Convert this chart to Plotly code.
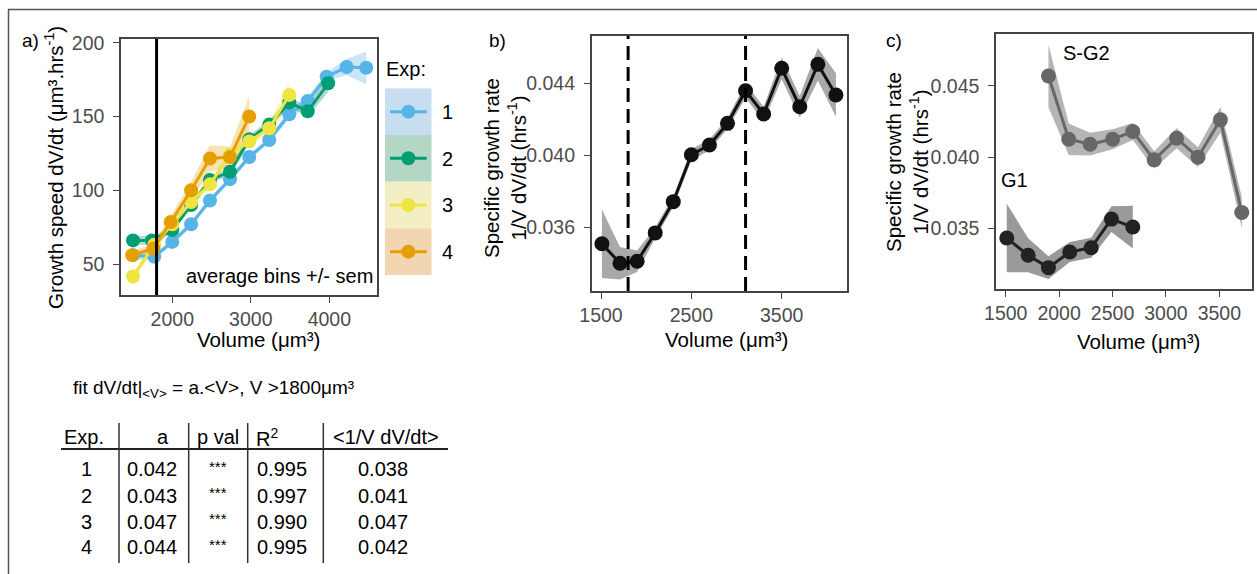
import plotly.graph_objects as go

W, H = 1257, 574

# ---------------- data: panel a (growth speed per volume bin) ----------------
exp1_v = [1500, 1770, 2000, 2240, 2480, 2735, 2980, 3235, 3490, 3725, 3965, 4220, 4470]
exp1_y = [56, 55, 65, 77, 93, 107.5, 122.5, 134, 151.5, 160.5, 177, 183.5, 183]
exp1_sem = [3, 2, 2, 2, 2, 2, 2, 2, 3, 3, 3, 5.5, 11]

exp2_v = [1500, 1740, 2000, 2240, 2480, 2735, 2980, 3235, 3490, 3725, 3985]
exp2_y = [66, 66, 73, 90, 107, 112.5, 134.5, 144.5, 159.5, 153.5, 172.5]
exp2_sem = [3, 3, 2, 2, 2, 3, 3, 3, 3, 4, 6]

exp3_v = [1500, 1770, 2000, 2240, 2480, 2735, 2980, 3235, 3490]
exp3_y = [41.5, 63, 77, 92, 104, 124, 133, 142, 164.5]
exp3_sem = [3, 3, 3, 3, 3, 3, 3, 4, 9]

exp4_v = [1490, 1760, 1980, 2240, 2480, 2735, 2980]
exp4_y = [56, 60.5, 78.5, 100, 121.5, 122.5, 150]
exp4_sem = [3, 3, 4, 6, 9, 7, 14]

exp_labels = ["1", "2", "3", "4"]
exp_colors = ["#56B4E9", "#009E73", "#F0E442", "#E69F00"]
exp_fill = ["rgba(86,180,233,0.33)", "rgba(20,130,80,0.30)", "rgba(240,228,66,0.30)", "rgba(230,159,0,0.30)"]
legend_fill = ["#c6def0", "#b4d6c4", "#f3eec4", "#f2d6b2"]
v_threshold = 1800

# ---------------- data: panel b ----------------
b_v = [1510, 1710, 1900, 2100, 2300, 2500, 2700, 2900, 3100, 3300, 3500, 3700, 3900, 4100]
b_y = [0.03511, 0.03403, 0.03414, 0.03571, 0.03744, 0.04004, 0.04058, 0.04178,
       0.04359, 0.04230, 0.04483, 0.04270, 0.04505, 0.04335]
b_sem = [0.0019, 0.0009, 0.0006, 0.0003, 0.0003, 0.0003, 0.0003, 0.0003,
         0.0004, 0.0004, 0.0006, 0.0006, 0.0009, 0.0012]
b_dashes = [1800, 3100]

# ---------------- data: panel c ----------------
g1_v = [1510, 1710, 1900, 2100, 2300, 2490, 2690]
g1_y = [0.03432, 0.03311, 0.03224, 0.03334, 0.03364, 0.03565, 0.03509]
g1_sem = [0.0024, 0.0012, 0.0008, 0.0007, 0.0007, 0.0009, 0.0015]

sg2_v = [1900, 2090, 2290, 2500, 2690, 2890, 3100, 3300, 3510, 3710]
sg2_y = [0.0457, 0.04126, 0.04091, 0.04126, 0.0418, 0.03981, 0.04133, 0.0400, 0.04262, 0.03611]
sg2_sem = [0.0022, 0.0011, 0.0008, 0.0007, 0.0006, 0.0006, 0.0007, 0.0007, 0.0009, 0.0011]

# ---------------- data: fit table ----------------
tab_header = ["Exp.", "a", "p val", "R<sup>2</sup>", "&lt;1/V dV/dt&gt;"]
tab_exp = ["1", "2", "3", "4"]
tab_a = ["0.042", "0.043", "0.047", "0.044"]
tab_p = ["***", "***", "***", "***"]
tab_r2 = ["0.995", "0.997", "0.990", "0.995"]
tab_sgr = ["0.038", "0.041", "0.047", "0.042"]

FONT = "Liberation Sans, Arial, sans-serif"
TICKC = "#4d4d4d"
AXC = "#444444"


def px(x):
    return x / W


def py(y):
    return 1 - y / H


def ribbon(v, y, s):
    up = [a + b for a, b in zip(y, s)]
    lo = [a - b for a, b in zip(y, s)]
    return v + v[::-1], up + lo[::-1]


fig = go.Figure()

# panel a
series = [(exp1_v, exp1_y, exp1_sem), (exp2_v, exp2_y, exp2_sem),
          (exp3_v, exp3_y, exp3_sem), (exp4_v, exp4_y, exp4_sem)]
for i, (v, y, s) in enumerate(series):
    rx, ry = ribbon(v, y, s)
    fig.add_trace(go.Scatter(x=rx, y=ry, fill="toself", fillcolor=exp_fill[i],
                             line=dict(width=0), mode="lines", hoverinfo="skip",
                             showlegend=False, xaxis="x", yaxis="y"))
for i, (v, y, s) in enumerate(series):
    fig.add_trace(go.Scatter(x=v, y=y, mode="lines+markers",
                             line=dict(color=exp_colors[i], width=3),
                             marker=dict(color=exp_colors[i], size=14),
                             showlegend=False, xaxis="x", yaxis="y"))

# panel b
rx, ry = ribbon(b_v, b_y, b_sem)
fig.add_trace(go.Scatter(x=rx, y=ry, fill="toself", fillcolor="#a9a9a9",
                         line=dict(width=0), mode="lines", hoverinfo="skip",
                         showlegend=False, xaxis="x2", yaxis="y2"))
fig.add_trace(go.Scatter(x=b_v, y=b_y, mode="lines+markers",
                         line=dict(color="#111111", width=3),
                         marker=dict(color="#111111", size=15),
                         showlegend=False, xaxis="x2", yaxis="y2"))

# panel c
rx, ry = ribbon(sg2_v, sg2_y, sg2_sem)
fig.add_trace(go.Scatter(x=rx, y=ry, fill="toself", fillcolor="#b5b5b5",
                         line=dict(width=0), mode="lines", hoverinfo="skip",
                         showlegend=False, xaxis="x3", yaxis="y3"))
rx, ry = ribbon(g1_v, g1_y, g1_sem)
fig.add_trace(go.Scatter(x=rx, y=ry, fill="toself", fillcolor="#999999",
                         line=dict(width=0), mode="lines", hoverinfo="skip",
                         showlegend=False, xaxis="x3", yaxis="y3"))
fig.add_trace(go.Scatter(x=sg2_v, y=sg2_y, mode="lines+markers",
                         line=dict(color="#676767", width=3),
                         marker=dict(color="#676767", size=15),
                         showlegend=False, xaxis="x3", yaxis="y3"))
fig.add_trace(go.Scatter(x=g1_v, y=g1_y, mode="lines+markers",
                         line=dict(color="#222222", width=3),
                         marker=dict(color="#222222", size=15),
                         showlegend=False, xaxis="x3", yaxis="y3"))

# legend (drawn on its own small axis)
n = len(exp_labels)
for i in range(n):
    lev = n - 1 - i + 0.5
    fig.add_trace(go.Scatter(x=[0.107, 0.893], y=[lev, lev], mode="lines",
                             line=dict(color=exp_colors[i], width=3),
                             showlegend=False, hoverinfo="skip", xaxis="x4", yaxis="y4"))
    fig.add_trace(go.Scatter(x=[0.5], y=[lev], mode="markers",
                             marker=dict(color=exp_colors[i], size=14),
                             showlegend=False, hoverinfo="skip", xaxis="x4", yaxis="y4"))

shapes = []
for i in range(n):
    shapes.append(dict(type="rect", xref="x4", yref="y4", x0=0, x1=1,
                       y0=n - 1 - i, y1=n - i, fillcolor=legend_fill[i],
                       line=dict(width=0), layer="below"))

# reference lines
shapes.append(dict(type="line", xref="x", yref="y domain", x0=v_threshold, x1=v_threshold,
                   y0=0, y1=1, line=dict(color="black", width=3)))
for d in b_dashes:
    shapes.append(dict(type="line", xref="x2", yref="y2 domain", x0=d, x1=d, y0=0, y1=1,
                       line=dict(color="black", width=3, dash="14px,7px")))

# outer frame
shapes.append(dict(type="line", xref="paper", yref="paper", x0=px(8), x1=1,
                   y0=py(9.5), y1=py(9.5), line=dict(color="#555", width=1.5)))
shapes.append(dict(type="line", xref="paper", yref="paper", x0=px(8.5), x1=px(8.5),
                   y0=py(9), y1=0, line=dict(color="#555", width=1.5)))

# table lines
shapes.append(dict(type="line", xref="paper", yref="paper", x0=px(61), x1=px(448),
                   y0=py(449), y1=py(449), line=dict(color="#222", width=2)))
for xl in [119, 188.7, 247.7, 323.3]:
    shapes.append(dict(type="line", xref="paper", yref="paper", x0=px(xl), x1=px(xl),
                       y0=py(423), y1=py(563), line=dict(color="#333", width=1.5)))

ann = []


def text(x, y, s, size=20, color="black", xanchor="center", angle=0, yanchor="middle"):
    ann.append(dict(x=px(x), y=py(y), xref="paper", yref="paper", text=s, showarrow=False,
                    font=dict(family=FONT, size=size, color=color), xanchor=xanchor,
                    yanchor=yanchor, textangle=angle))


# panel letters
text(31, 41, "a)", 19)
text(497, 41, "b)", 19)
text(894, 41, "c)", 19)

# axis titles
text(258, 339, "Volume (μm³)", 20.5)
text(726, 339, "Volume (μm³)", 20.5)
text(1138, 341, "Volume (μm³)", 20.5)
text(54, 168, "Growth speed dV/dt (μm³.hrs<sup>-1</sup>)", 20.5, angle=-90)
text(505, 168, "Specific growth rate<br>1/V dV/dt (hrs<sup>-1</sup>)", 20.5, angle=-90)
text(907, 162, "Specific growth rate<br>1/V dV/dt (hrs<sup>-1</sup>)", 20.5, angle=-90)

# in-plot labels
text(279, 276, "average bins +/- sem", 20)
text(1086, 53, "S-G2", 20)
text(1014, 180, "G1", 20)

# legend texts
text(406, 69, "Exp:", 20)
for i, lab in enumerate(exp_labels):
    text(447, 112 + i * 46.5, lab, 20)

# table
text(71, 389, "fit dV/dt|<sub>&lt;V&gt;</sub> = a.&lt;V&gt;, V &gt;1800μm³", 19, xanchor="left")
hdr_x = [84, 163, 218, 267, 386]
for hx, h in zip(hdr_x, tab_header):
    text(hx, 437, h, 20)
row_y = [469, 495.5, 521.5, 547]
for j in range(len(tab_exp)):
    ry_ = row_y[j]
    text(87, ry_, tab_exp[j], 20)
    text(152, ry_, tab_a[j], 20)
    text(218, ry_ - 3, tab_p[j], 15)
    text(282, ry_, tab_r2[j], 20)
    text(383, ry_, tab_sgr[j], 20)

axis_common = dict(showline=True, mirror=True, linecolor=AXC, linewidth=1.5, ticks="outside",
                   ticklen=6, tickwidth=1.2, tickcolor=AXC, showgrid=False, zeroline=False,
                   automargin=False,
                   tickfont=dict(family=FONT, size=19.5, color=TICKC))
xax = dict(axis_common, ticklabelstandoff=0)
yax = dict(axis_common, ticklabelstandoff=5)

fig.update_layout(
    width=W, height=H, margin=dict(l=0, r=0, t=0, b=0, pad=0, autoexpand=False),
    paper_bgcolor="white", plot_bgcolor="white", showlegend=False,
    font=dict(family=FONT),
    xaxis=dict(domain=[px(121), px(377)], range=[1347, 4607], tickvals=[2000, 3000, 4000],
               anchor="y", **xax),
    yaxis=dict(domain=[py(295), py(39)], range=[29, 202.5], tickvals=[50, 100, 150, 200],
               anchor="x", **yax),
    xaxis2=dict(domain=[px(591.7), px(847.3)], range=[1397, 4226], tickvals=[1500, 2500, 3500],
                anchor="y2", **xax),
    yaxis2=dict(domain=[py(291), py(36)], range=[0.03249, 0.04662],
                tickvals=[0.036, 0.040, 0.044], tickformat=".3f", anchor="x2", **yax),
    xaxis3=dict(domain=[px(996), px(1251.7)], range=[1409, 3803],
                tickvals=[1500, 2000, 2500, 3000, 3500], anchor="y3", **xax),
    yaxis3=dict(domain=[py(289), py(34)], range=[0.03074, 0.04865],
                tickvals=[0.035, 0.040, 0.045], tickformat=".3f", anchor="x3", **yax),
    xaxis4=dict(domain=[px(385), px(431.7)], range=[0, 1], visible=False, anchor="y4", automargin=False),
    yaxis4=dict(domain=[py(275), py(88.3)], range=[0, 4], visible=False, anchor="x4", automargin=False),
    shapes=shapes, annotations=ann,
)

fig.write_html("out.html", config={"displayModeBar": False},
               post_script="document.body.style.margin='0';document.body.style.overflow='hidden';")
